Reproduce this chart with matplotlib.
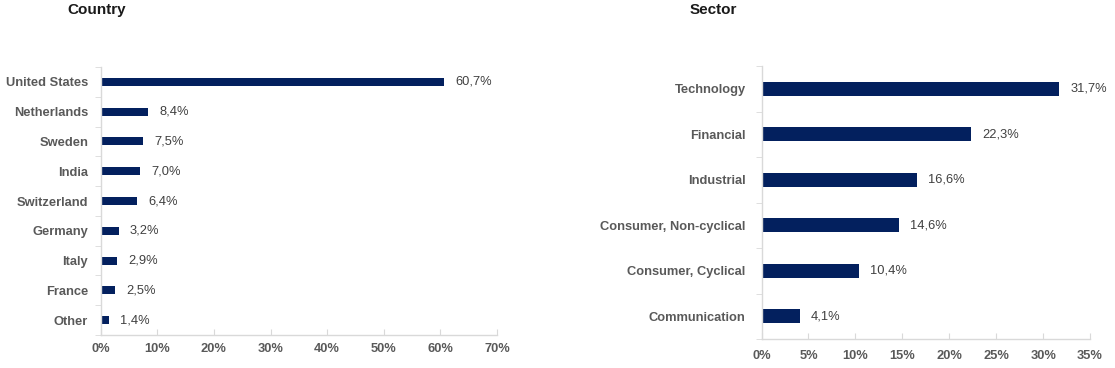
import numpy as np
import matplotlib.pyplot as plt
from matplotlib.ticker import FixedLocator, PercentFormatter

# Country allocation (%)
countries = ['United States', 'Netherlands', 'Sweden', 'India', 'Switzerland',
             'Germany', 'Italy', 'France', 'Other']
country_vals = [60.7, 8.4, 7.5, 7.0, 6.4, 3.2, 2.9, 2.5, 1.4]

# Sector allocation (%)
sectors = ['Technology', 'Financial', 'Industrial', 'Consumer, Non-cyclical',
           'Consumer, Cyclical', 'Communication']
sector_vals = [31.7, 22.3, 16.6, 14.6, 10.4, 4.1]

bar_color = '#03205e'
spine_color = '#d9d9d9'
tick_color = '#595959'
label_color = '#404040'

plt.rcParams['font.family'] = ['Liberation Sans', 'DejaVu Sans']

fig = plt.figure(figsize=(11.15, 3.68), dpi=100)


def draw_panel(ax, cats, vals, xmax, xstep, bar_h, ypad, xpad, offset):
    y = np.arange(len(cats))
    ax.barh(y, vals, height=bar_h, color=bar_color)
    ax.set_ylim(len(cats) - 0.5, -0.5)
    ax.set_xlim(0, xmax)
    ax.set_xticks(np.arange(0, xmax + 0.01, xstep))
    ax.xaxis.set_major_formatter(PercentFormatter(decimals=0))
    ax.set_yticks(y)
    ax.set_yticklabels(cats)
    ax.yaxis.set_minor_locator(FixedLocator(np.arange(-0.5, len(cats), 1.0)))
    for side in ['top', 'right']:
        ax.spines[side].set_visible(False)
    for side in ['left', 'bottom']:
        ax.spines[side].set_color(spine_color)
        ax.spines[side].set_linewidth(1.0)
    ax.tick_params(axis='y', which='major', length=0, pad=ypad,
                   labelsize=9.3, labelcolor=tick_color)
    ax.tick_params(axis='y', which='minor', length=4, color=spine_color,
                   direction='out')
    ax.tick_params(axis='x', which='major', length=4, color=spine_color,
                   direction='in', pad=xpad, labelsize=9.3, labelcolor=tick_color)
    for lbl in ax.get_yticklabels() + ax.get_xticklabels():
        lbl.set_fontweight('bold')
    for yi, v in zip(y, vals):
        ax.annotate(f"{v:.1f}%".replace('.', ','), (v, yi),
                    xytext=(offset, 0), textcoords='offset points',
                    va='center', ha='left', fontsize=9.3, color=label_color)


ax1 = fig.add_axes([0.0903, 0.0897, 0.3554, 0.7282])
draw_panel(ax1, countries, country_vals, 70, 10, 0.27, 9, 6, 8)

ax2 = fig.add_axes([0.683, 0.0788, 0.2946, 0.7418])
draw_panel(ax2, sectors, sector_vals, 35, 5, 0.31, 11.5, 8, 8)

fig.text(67 / 1115, 1 - 10 / 368, 'Country', fontsize=11, fontweight='bold',
         color='#1a1a1a', va='center', ha='left')
fig.text(690 / 1115, 1 - 10 / 368, 'Sector', fontsize=11, fontweight='bold',
         color='#1a1a1a', va='center', ha='left')

fig.savefig('out.png', dpi=100)
